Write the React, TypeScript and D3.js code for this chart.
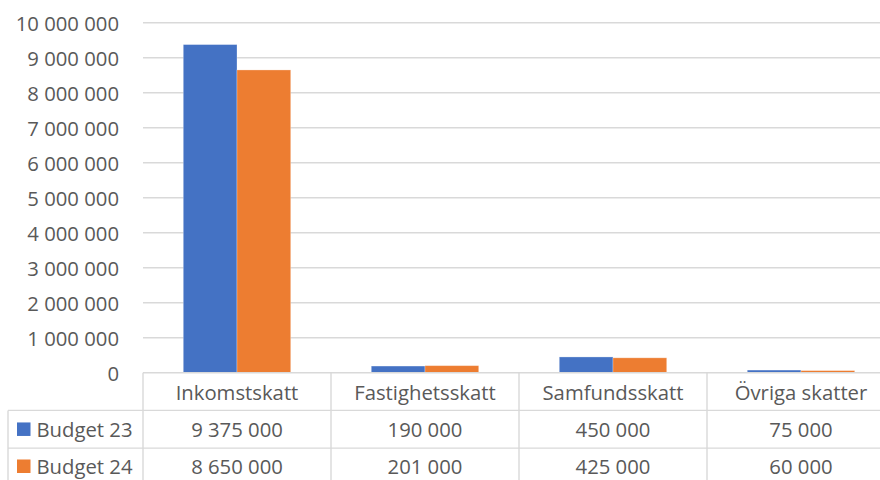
import React from "react";
import * as d3 from "d3";

const categories = ["Inkomstskatt", "Fastighetsskatt", "Samfundsskatt", "Övriga skatter"];
const seriesNames = ["Budget 23", "Budget 24"];
const budget23 = [9375000, 190000, 450000, 75000];
const budget24 = [8650000, 201000, 425000, 60000];
const yTicks = [0, 1000000, 2000000, 3000000, 4000000, 5000000, 6000000, 7000000, 8000000, 9000000, 10000000];
const colors = ["#4472C4", "#ED7D31"];

const W = 880;
const H = 480;
const FONT = "'Open Sans', sans-serif";
const TEXT = "#595959";
const GRID = "#d9d9d9";

export default function App() {
  const seriesValues = [budget23, budget24];
  const fmt = d3.formatLocale({ thousands: " ", grouping: [3], decimal: ",", currency: ["", " kr"] }).format(",");
  const plotLeft = 143;
  const plotRight = 895;
  const y = d3.scaleLinear().domain([0, 10000000]).range([372.7, 22.7]);
  const x = d3.scaleBand<string>().domain(categories).range([plotLeft, plotRight]).paddingInner(0).paddingOuter(0);
  const xs = d3.scaleBand<string>().domain(seriesNames).range([0, x.bandwidth()]).paddingInner(0).paddingOuter(0.75);
  const y0 = y(0);
  const rowH = 37.7;
  const rows = [y0, y0 + rowH, y0 + 2 * rowH, y0 + 3 * rowH];
  const tableLeft = 8;
  const fs = 20.3;

  return (
    <svg width={W} height={H} style={{ position: "absolute", left: 0, top: 0, background: "#fff" }} fontFamily={FONT}>
      <rect width={W} height={H} fill="#fff" />
      {yTicks.map((t) => (
        <g key={t}>
          {t > 0 && <line x1={plotLeft} x2={plotRight} y1={y(t)} y2={y(t)} stroke={GRID} strokeWidth={1.4} />}
          <text x={119} y={y(t)} textAnchor="end" dominantBaseline="central" fontSize={fs} fill={TEXT}>
            {fmt(t)}
          </text>
        </g>
      ))}
      {seriesValues.map((vals, si) =>
        categories.map((c, ci) => (
          <rect
            key={`${si}-${ci}`}
            x={(x(c) as number) + (xs(seriesNames[si]) as number)}
            width={xs.bandwidth()}
            y={y(vals[ci])}
            height={y0 - y(vals[ci])}
            fill={colors[si]}
            stroke="#ffffff"
            strokeOpacity={0.35}
            strokeWidth={0.8}
          />
        ))
      )}
      <line x1={plotLeft} x2={plotRight} y1={rows[0]} y2={rows[0]} stroke={GRID} strokeWidth={1.4} />
      {[rows[1], rows[2], rows[3]].map((ry, i) => (
        <line key={i} x1={tableLeft} x2={plotRight} y1={ry} y2={ry} stroke={GRID} strokeWidth={1.4} />
      ))}
      <line x1={tableLeft} x2={tableLeft} y1={rows[1]} y2={rows[3]} stroke={GRID} strokeWidth={1.4} />
      {categories.map((c) => (
        <line key={c} x1={x(c) as number} x2={x(c) as number} y1={rows[0]} y2={rows[3]} stroke={GRID} strokeWidth={1.4} />
      ))}
      <line x1={plotRight} x2={plotRight} y1={rows[0]} y2={rows[3]} stroke={GRID} strokeWidth={1.4} />
      {categories.map((c) => (
        <text
          key={c}
          x={(x(c) as number) + x.bandwidth() / 2}
          y={(rows[0] + rows[1]) / 2}
          textAnchor="middle"
          dominantBaseline="central"
          fontSize={fs}
          fill={TEXT}
        >
          {c}
        </text>
      ))}
      {seriesNames.map((s, si) => {
        const cy = si === 0 ? (rows[1] + rows[2]) / 2 : 466.3;
        return (
          <g key={s}>
            <rect x={17} y={cy - 6.8} width={13.5} height={13.5} fill={colors[si]} />
            <text x={36.5} y={cy} dominantBaseline="central" fontSize={fs} fill={TEXT}>
              {s}
            </text>
            {categories.map((c, ci) => (
              <text
                key={c}
                x={(x(c) as number) + x.bandwidth() / 2}
                y={cy}
                textAnchor="middle"
                dominantBaseline="central"
                fontSize={fs}
                fill={TEXT}
              >
                {fmt(seriesValues[si][ci])}
              </text>
            ))}
          </g>
        );
      })}
    </svg>
  );
}
